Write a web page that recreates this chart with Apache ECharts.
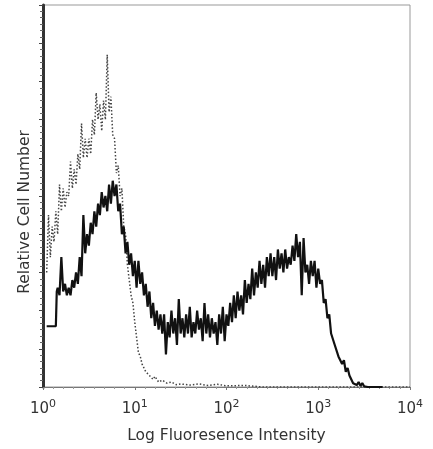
<!DOCTYPE html>
<html>
<head>
<meta charset="utf-8">
<script src="https://cdn.jsdelivr.net/npm/echarts@6/dist/echarts.min.js"></script>
<style>
  html, body { margin: 0; padding: 0; background: #fff; }
  #chart { width: 433px; height: 449px; }
</style>
</head>
<body>
<div id="chart"></div>
<script>
// x positions are log10 of fluorescence intensity (decades)
var stainedX = [0.04, 0.14, 0.15,
  0.16, 0.18, 0.20, 0.22, 0.24, 0.26, 0.28, 0.30, 0.32, 0.34, 0.36, 0.38, 0.40, 0.42, 0.44, 0.46, 0.48, 0.50,
  0.52, 0.54, 0.56, 0.58, 0.60, 0.62, 0.64, 0.66, 0.68, 0.70, 0.72, 0.74, 0.76, 0.78, 0.80, 0.82, 0.84, 0.86,
  0.88, 0.90, 0.92, 0.94, 0.96, 0.98, 1.00, 1.02, 1.04, 1.06, 1.08, 1.10, 1.12, 1.14, 1.16, 1.18, 1.20, 1.22,
  1.24, 1.26, 1.28, 1.30, 1.32, 1.34, 1.36, 1.38, 1.40, 1.42, 1.44, 1.46, 1.48, 1.50, 1.52, 1.54, 1.56, 1.58,
  1.60, 1.62, 1.64, 1.66, 1.68, 1.70, 1.72, 1.74, 1.76, 1.78, 1.80, 1.82, 1.84, 1.86, 1.88, 1.90, 1.92, 1.94,
  1.96, 1.98, 2.00, 2.02, 2.04, 2.06, 2.08, 2.10, 2.12, 2.14, 2.16, 2.18, 2.20, 2.22, 2.24, 2.26, 2.28, 2.30,
  2.32, 2.34, 2.36, 2.38, 2.40, 2.42, 2.44, 2.46, 2.48, 2.50, 2.52, 2.54, 2.56, 2.58, 2.60, 2.62, 2.64, 2.66,
  2.68, 2.70, 2.72, 2.74, 2.76, 2.78, 2.80, 2.82, 2.84, 2.86, 2.88, 2.90, 2.92, 2.94, 2.96, 2.98, 3.00, 3.02,
  3.04, 3.06, 3.08, 3.10, 3.12, 3.14, 3.16, 3.18, 3.20, 3.22, 3.24, 3.26, 3.28, 3.30, 3.32, 3.34, 3.36, 3.38,
  3.40, 3.42, 3.44, 3.46, 3.48, 3.50, 3.52, 3.54, 3.56, 3.70];
var stainedY = [15.9, 15.9, 25,
  26, 24, 34, 25, 27, 24, 26, 24, 28, 26, 30, 27, 34, 29, 45, 35, 40, 37,
  43, 40, 46, 42, 48, 45, 51, 47, 50, 46, 53, 48, 54, 50, 53, 46, 48, 40,
  42, 35, 38, 32, 35, 29, 33, 26, 33, 27, 30, 24, 27, 21, 25, 18, 22, 16,
  20, 15, 19, 14, 19, 8.5, 17, 13, 20, 14, 18, 11, 23, 14, 18, 13, 19, 14,
  21, 13, 17, 14, 20, 15, 18, 12, 22, 14, 19, 13, 18, 14, 17, 11, 19, 14,
  21, 12, 19, 16, 22, 17, 24, 18, 25, 20, 24, 19, 28, 22, 27, 23, 31, 24,
  30, 26, 33, 27, 32, 26, 34, 29, 35, 29, 34, 28, 36, 31, 35, 30, 36, 31,
  34, 32, 37, 33, 40, 34, 38, 24, 39, 30, 32, 27, 33, 29, 33, 26, 31, 27,
  28, 22, 23, 18, 19, 14, 14, 11, 11, 8, 8, 6, 7, 4, 5, 3, 3, 1,
  1.5, 0.5, 1.3, 0.3, 1, 0.2, 0.5, 0, 0, 0];

var controlX = [0.04, 0.06, 0.08, 0.10, 0.12, 0.14, 0.16, 0.18, 0.20, 0.22, 0.24, 0.26, 0.28, 0.30, 0.32, 0.34,
  0.36, 0.38, 0.40, 0.42, 0.44, 0.46, 0.48, 0.50, 0.52, 0.54, 0.56, 0.58, 0.60, 0.62, 0.64, 0.66, 0.68, 0.70,
  0.72, 0.74, 0.76, 0.78, 0.80, 0.82, 0.84, 0.86, 0.88, 0.90, 0.92, 0.94, 0.96, 0.98, 1.00, 1.02, 1.04, 1.06,
  1.08, 1.10, 1.12, 1.14, 1.16, 1.18, 1.20, 1.22, 1.24, 1.26, 1.30, 1.35, 1.40, 1.45, 1.50, 1.60, 1.70, 1.80,
  1.90, 2.00, 2.20, 2.40, 4.00];
var controlY = [30, 45, 34, 42, 38, 46, 40, 53, 46, 52, 47, 51, 50, 59, 52, 57,
  53, 61, 57, 69, 60, 65, 60, 65, 61, 70, 66, 77, 70, 74, 67, 75, 70, 87,
  72, 76, 66, 65, 56, 58, 50, 52, 42, 40, 32, 28, 24, 22, 17, 13, 9, 8,
  6, 5.5, 4, 4, 3, 3.2, 2, 2.8, 2.3, 1.3, 1.8, 1, 1.3, 0.6, 0.8, 0.5, 0.8, 0.4,
  0.7, 0.3, 0.4, 0, 0];

var decades = [0, 1, 2, 3, 4];

function pairs(xs, ys) {
  return xs.map(function (x, i) { return [x, ys[i]]; });
}

var chart = echarts.init(document.getElementById('chart'));
chart.setOption({
  animation: false,
  backgroundColor: '#fff',
  grid: {
    left: 43, right: 23, top: 5, bottom: 61,
    show: true, borderColor: '#999', borderWidth: 1
  },
  xAxis: {
    type: 'value', min: decades[0], max: decades[decades.length - 1], interval: 1,
    name: 'Log Fluoresence Intensity',
    nameLocation: 'middle', nameGap: 41,
    nameTextStyle: { fontFamily: 'DejaVu Sans', fontSize: 15.5, color: '#333' },
    axisLine: { lineStyle: { color: '#777', width: 1 } },
    axisTick: { length: 3, lineStyle: { color: '#777' } },
    minorTick: { show: true, splitNumber: 9, length: 2, lineStyle: { color: '#999' } },
    splitLine: { show: false },
    axisLabel: {
      margin: 12,
      formatter: function (v) { return '{b|10}{s|' + v + '}'; },
      rich: {
        b: { fontFamily: 'DejaVu Sans', fontSize: 15, color: '#333' },
        s: { fontFamily: 'DejaVu Sans', fontSize: 11, color: '#333', padding: [0, 0, 9, 0] }
      }
    }
  },
  yAxis: {
    type: 'value', min: 0, max: 100, interval: 10,
    name: 'Relative Cell Number',
    nameLocation: 'middle', nameGap: 10,
    nameTextStyle: { fontFamily: 'DejaVu Sans', fontSize: 15.5, color: '#333', padding: [0, 32, 0, 0] },
    axisLine: { show: true, lineStyle: { color: '#333', width: 3 } },
    axisTick: { show: true, length: 4, lineStyle: { color: '#444' } },
    minorTick: { show: true, splitNumber: 6, length: 3, lineStyle: { color: '#666' } },
    axisLabel: { show: false },
    splitLine: { show: false }
  },
  series: [
    {
      type: 'line', name: 'control', symbol: 'none',
      data: pairs(controlX, controlY),
      lineStyle: { color: '#444', width: 1.5, type: [1.5, 2] },
      z: 2
    },
    {
      type: 'line', name: 'stained', symbol: 'none',
      data: pairs(stainedX, stainedY),
      lineStyle: { color: '#111', width: 2.2 },
      z: 3
    }
  ]
});
</script>
</body>
</html>
